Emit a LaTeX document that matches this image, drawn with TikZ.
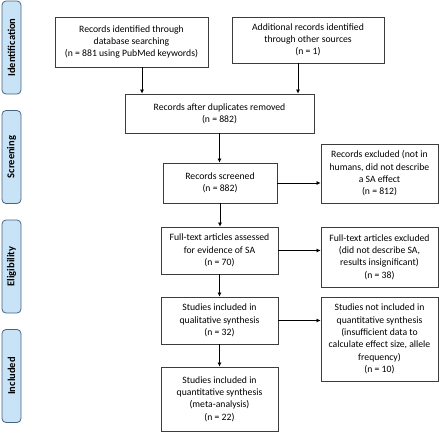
\documentclass[tikz,border=0pt]{standalone}
\usepackage{fontspec}
\setmainfont{Carlito}
\usetikzlibrary{arrows.meta}
\definecolor{phasefill}{RGB}{200,226,246}
\definecolor{phaseline}{RGB}{70,100,130}
\definecolor{boxline}{RGB}{60,60,60}
\tikzset{
  box/.style={draw=boxline, line width=0.8pt, align=center, inner sep=2pt,
    font=\fontsize{9.7}{12.3}\selectfont},
  phase/.style={draw=phaseline, fill=phasefill, line width=0.8pt, rounded corners=4pt,
    rotate=90, minimum width=93pt, minimum height=19pt, inner sep=0pt,
    font=\fontsize{10.5}{11}\selectfont\bfseries},
  arr/.style={draw=black, line width=0.7pt, -{Latex[length=4pt,width=4pt]}}
}

\begin{document}
\begin{tikzpicture}[x=1pt, y=-1pt]
      \useasboundingbox (0,0) rectangle (440,432);
      % phases
      \node[phase] (identification) at (11.5,47.5) {Identification};
      \node[phase] (screening) at (11.5,157) {Screening};
      \node[phase] (eligibility) at (11.5,266.5) {Eligibility};
      \node[phase] (included) at (11.5,376) {Included};
      % main column
      \node[box, minimum width=153pt, minimum height=50pt] (db) at (131.5,42) {Records identified through\\database searching\\(n = 881 using PubMed keywords)};
      \node[box, minimum width=152pt, minimum height=46pt] (other) at (308,40) {Additional records identified\\through other sources\\(n = 1)};
      \node[box, minimum width=189pt, minimum height=39pt] (dup) at (219.5,113.5) {Records after duplicates removed\\(n = 882)};
      \node[box, minimum width=114pt, minimum height=40pt] (screened) at (220,183) {Records screened\\(n = 882)};
      \node[box, minimum width=117pt, minimum height=47pt] (fulltext) at (219.5,250.5) {Full-text articles assessed\\for evidence of SA\\(n = 70)};
      \node[box, minimum width=117pt, minimum height=47pt] (qual) at (219.5,320.5) {Studies included in\\qualitative synthesis\\(n = 32)};
      \node[box, minimum width=117pt, minimum height=64pt] (quant) at (219.5,399) {Studies included in\\quantitative synthesis\\(meta-analysis)\\(n = 22)};
      % exclusions
      \node[box, minimum width=117pt, minimum height=59pt] (excscr) at (379.5,173.5) {Records excluded (not in\\humans, did not describe\\a SA effect\\(n = 812)};
      \node[box, minimum width=117pt, minimum height=60pt] (excfull) at (379.5,257) {Full-text articles excluded\\(did not describe SA,\\results insignificant)\\(n = 38)};
      \node[box, minimum width=117pt, minimum height=84pt] (excqual) at (379.5,339) {Studies not included in\\quantitative synthesis\\(insufficient data to\\calculate effect size, allele\\frequency)\\(n = 10)};
      % arrows
      \draw[arr] ([xshift=10.5pt]db.south) -- ([xshift=10.5pt]db.south |- dup.north);
      \draw[arr] ([xshift=-10pt]other.south) -- ([xshift=-10pt]other.south |- dup.north);
      \draw[arr] (dup.south) -- (dup.south |- screened.north);
      \draw[arr] (screened.south) -- (screened.south |- fulltext.north);
      \draw[arr] (fulltext.south) -- (qual.north);
      \draw[arr] (qual.south) -- (quant.north);
      \draw[arr] (screened.east) -- (screened.east -| excscr.west);
      \draw[arr] (fulltext.east) -- (fulltext.east -| excfull.west);
      \draw[arr] (qual.east) -- (qual.east -| excqual.west);
\end{tikzpicture}
\end{document}
